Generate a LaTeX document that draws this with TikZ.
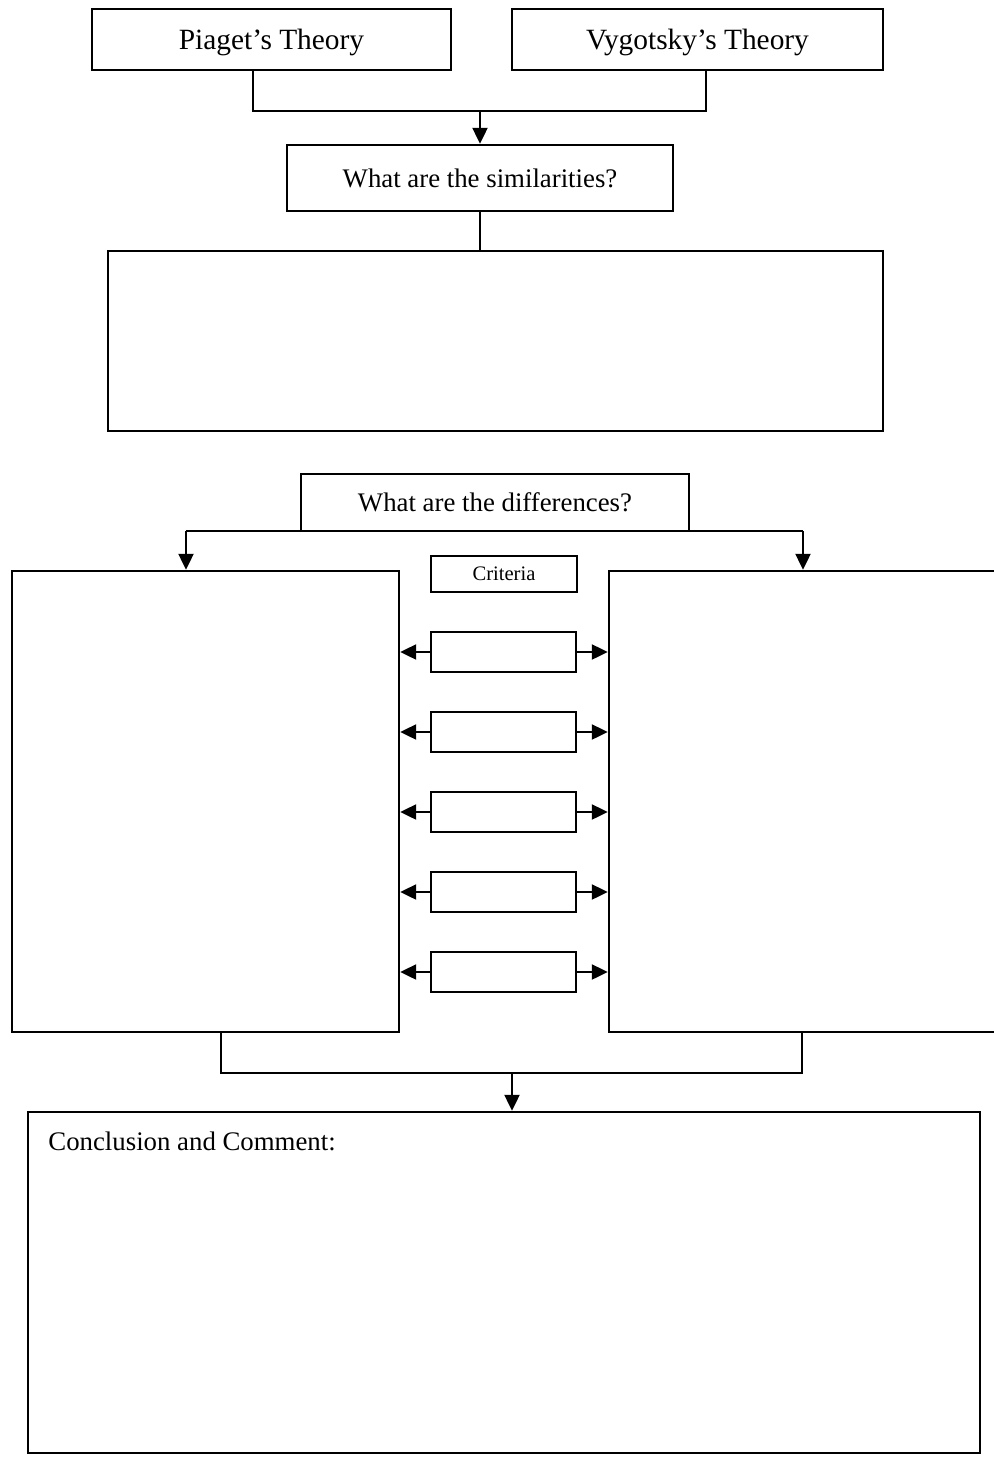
\documentclass[tikz,border=0pt]{standalone}
\usepackage{fontspec}
\setmainfont{Liberation Serif}
\usetikzlibrary{arrows.meta}
\begin{document}
\begin{tikzpicture}[x=0.5pt,y=-0.5pt,
  box/.style={draw, line width=1.2pt, inner sep=0pt, font=\fontsize{13.4}{16}\selectfont},
  titlebox/.style={box, font=\fontsize{14.7}{17}\selectfont, text depth=0pt},
  conn/.style={line width=1.1pt},
  arr/.style={conn, -{Triangle[length=8pt,width=7.5pt]}}]
\useasboundingbox (0,0) rectangle (993,1461);

% the two theories
\node[titlebox, minimum width=179.5pt, minimum height=30.5pt] (piaget) at (271.5,39.5) {Piaget’s Theory};
\node[titlebox, minimum width=185.5pt, minimum height=30.5pt] (vygotsky) at (697.5,39.5) {Vygotsky’s Theory};

% similarities
\node[box, minimum width=193pt, minimum height=33pt] (similar) at (480,178) {What are the similarities?};
\node[box, minimum width=387.5pt, minimum height=90pt] (simbox) at (495.5,341) {};

% differences
\node[box, minimum width=194pt, minimum height=28.5pt] (differ) at (495,502.5) {What are the differences?};
\node[box, minimum width=193.5pt, minimum height=230.5pt] (leftbox) at (205.5,801.5) {};
\node[box, minimum width=195.5pt, minimum height=230.5pt] (rightbox) at (804.5,801.5) {};
\node[box, font=\fontsize{10.3}{12}\selectfont, minimum width=73pt, minimum height=18pt] (criteria) at (504,574) {Criteria};
\foreach \i/\y in {1/652,2/732,3/812,4/892,5/972} {
  \node[box, minimum width=72.5pt, minimum height=20pt] (crit\i) at (503.5,\y) {};
  \draw[arr] (crit\i.west) -- (crit\i.west -| leftbox.east);
  \draw[arr] (crit\i.east) -- (crit\i.east -| rightbox.west);
}

% conclusion
\node[box, minimum width=476pt, minimum height=170.5pt] (conclusion) at (504,1282.5) {};
\node[anchor=base west, inner sep=0pt, font=\fontsize{13.4}{16}\selectfont] (conclabel) at (48,1150) {Conclusion and Comment:};

% connectors: theories -> similarities
\coordinate (pj) at (253,111);
\coordinate (vj) at (706,111);
\draw[conn] (pj |- piaget.south) -- (pj) -- (vj) -- (vj |- vygotsky.south);
\draw[arr] (pj -| similar.north) -- (similar.north);
\draw[conn] (similar.south) -- (similar.south |- simbox.north);

% connectors: differences -> both columns
\coordinate (dl) at (186,531);
\coordinate (dr) at (803,531);
\draw[conn] (dl) -- (dr);
\draw[arr] (dl) -- (dl |- leftbox.north);
\draw[arr] (dr) -- (dr |- rightbox.north);

% connectors: columns -> conclusion
\coordinate (bl) at (221,1073);
\coordinate (br) at (802,1073);
\coordinate (bm) at (512,1073);
\draw[conn] (bl |- leftbox.south) -- (bl) -- (br) -- (br |- rightbox.south);
\draw[arr] (bm) -- (bm |- conclusion.north);
\end{tikzpicture}
\end{document}
